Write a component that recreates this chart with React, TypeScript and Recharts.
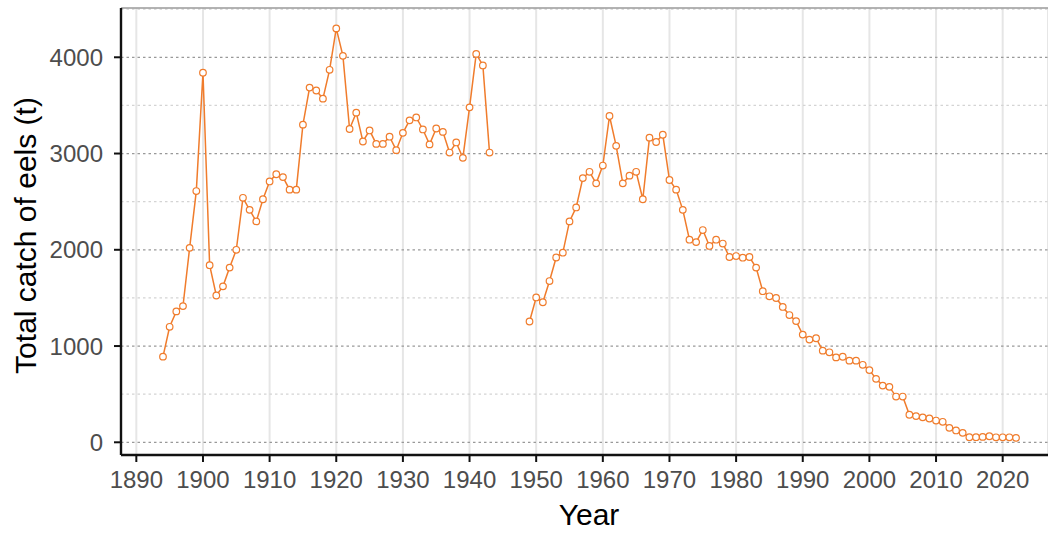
import React from "react"
import {
    LineChart,
    Line,
    XAxis,
    YAxis,
    CartesianGrid,
    ReferenceLine,
    Label,
} from "recharts"

// catch in tonnes, one value per year
const EARLY_START = 1894
const earlyCatch = [
    890, 1200, 1360, 1415, 2020, 2610, 3840, 1840, 1525, 1620,
    1815, 2000, 2540, 2415, 2295, 2525, 2710, 2785, 2755, 2625,
    2625, 3300, 3685, 3655, 3570, 3870, 4300, 4015, 3255, 3425,
    3125, 3240, 3100, 3100, 3175, 3035, 3215, 3345, 3375, 3250,
    3095, 3260, 3225, 3010, 3115, 2955, 3480, 4035, 3915, 3010,
]

const LATE_START = 1949
const lateCatch = [
    1255, 1505, 1455, 1675, 1920, 1970, 2295, 2440, 2745, 2810,
    2690, 2875, 3390, 3080, 2690, 2770, 2810, 2525, 3165, 3120,
    3195, 2725, 2625, 2415, 2105, 2080, 2205, 2040, 2105, 2065,
    1925, 1935, 1918, 1925, 1815, 1570, 1517, 1499, 1406, 1322,
    1259, 1119, 1067, 1081, 952, 935, 882, 889, 848, 848,
    805, 750, 659, 589, 576, 475, 475, 286, 272, 259,
    247, 226, 213, 150, 123, 98, 53, 53, 56, 63,
    52, 52, 52, 46,
]

// no data for the war years -> break in the line
const GAP_YEAR = 1946

const xTicks = [1890, 1900, 1910, 1920, 1930, 1940, 1950, 1960, 1970, 1980, 1990, 2000, 2010, 2020]
const yTicks = [0, 1000, 2000, 3000, 4000]
const yMinor = [500, 1500, 2500, 3500, 4500]

const ORANGE = "#F07C2C"
const FONT = "'Liberation Sans', Arial, sans-serif"

const data = [
    ...earlyCatch.map((v, i) => ({ year: EARLY_START + i, catch: v })),
    { year: GAP_YEAR, catch: null },
    ...lateCatch.map((v, i) => ({ year: LATE_START + i, catch: v })),
]

const YTitle = (props: any) => {
    const vb = props.viewBox
    const cy = vb.y + vb.height / 2 + 4
    return (
        <text
            x={36}
            y={cy}
            transform={`rotate(-90, 36, ${cy})`}
            textAnchor="middle"
            fontSize={30}
            fontFamily={FONT}
            fill="#000"
        >
            Total catch of eels (t)
        </text>
    )
}

const XTitle = () => (
    <text x={589} y={525} textAnchor="middle" fontSize={30} fontFamily={FONT} fill="#000">
        Year
    </text>
)

export default function App() {
    return (
        <div style={{ position: "absolute", left: 0, top: 0, width: 1048, height: 533, background: "#fff" }}>
            <LineChart
                width={1048}
                height={533}
                data={data}
                margin={{ top: 8, right: 0, left: 0, bottom: 0 }}
            >
                {yMinor.map((v) => (
                    <ReferenceLine key={"m" + v} y={v} stroke="#d4d4d4" strokeDasharray="2.5 3" strokeWidth={1.2} />
                ))}
                {yTicks.map((v) => (
                    <ReferenceLine key={"M" + v} y={v} stroke="#999" strokeDasharray="2.5 3" strokeWidth={1.2} />
                ))}
                <CartesianGrid horizontal={false} stroke="#e6e6e6" strokeWidth={2} />
                <ReferenceLine y={4512} stroke="#9a9a9a" strokeWidth={1.5} />

                <XAxis
                    dataKey="year"
                    type="number"
                    domain={[1887.7, 2026.8]}
                    allowDataOverflow
                    ticks={xTicks}
                    interval={0}
                    height={78}
                    tickSize={7}
                    tickMargin={9}
                    stroke="#111"
                    axisLine={{ stroke: "#111", strokeWidth: 2.4 }}
                    tickLine={{ stroke: "#111", strokeWidth: 2 }}
                    tick={{ fill: "#4d4d4d", fontSize: 24, fontFamily: FONT }}
                >
                    <Label content={<XTitle />} />
                </XAxis>

                <YAxis
                    type="number"
                    domain={[-132, 4512]}
                    allowDataOverflow
                    ticks={yTicks}
                    interval={0}
                    width={121}
                    tickSize={7}
                    tickMargin={11}
                    stroke="#111"
                    axisLine={{ stroke: "#111", strokeWidth: 2.4 }}
                    tickLine={{ stroke: "#111", strokeWidth: 2 }}
                    tick={{ fill: "#4d4d4d", fontSize: 24, fontFamily: FONT }}
                >
                    <Label content={<YTitle />} />
                </YAxis>

                <Line
                    type="linear"
                    dataKey="catch"
                    stroke={ORANGE}
                    strokeWidth={1.5}
                    dot={{ r: 3.3, fill: "#fff", stroke: ORANGE, strokeWidth: 1.2 }}
                    activeDot={false}
                    isAnimationActive={false}
                />
            </LineChart>
        </div>
    )
}
